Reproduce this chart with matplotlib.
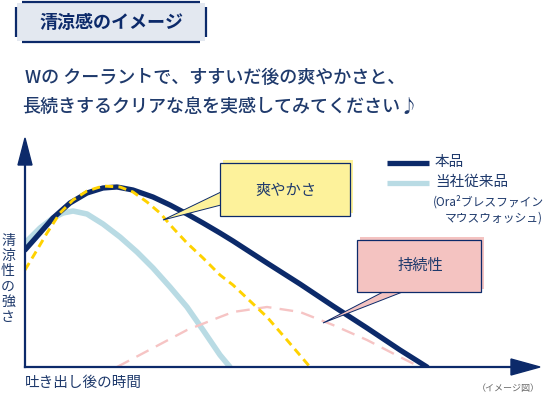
import matplotlib
matplotlib.use("Agg")
import matplotlib.pyplot as plt
from matplotlib.patches import Rectangle, Polygon

plt.rcParams['font.family'] = ['Noto Sans CJK JP', 'DejaVu Sans']

# curves: time after spitting out (x) vs strength of coolness (y), image units
main_t = [0, 15, 28, 45, 62, 78, 92, 108, 128, 145, 162, 178, 195, 208, 225, 242, 275, 308, 342, 375, 402]
main_s = [117, 134, 149, 164, 174, 179, 180, 177, 170, 162, 153, 144, 134, 126, 115, 104, 83, 61, 39, 17, 0]

old_t = [0, 15, 28, 38, 48, 62, 78, 95, 112, 128, 145, 162, 178, 195, 205]
old_s = [124, 139, 149, 154, 156, 153, 143, 130, 115, 99, 80, 60, 37, 12, 0]

fresh_t = [0, 12, 22, 35, 48, 62, 78, 95, 108, 122, 135, 148, 162, 178, 195, 208, 242, 262, 285]
fresh_s = [97, 117, 134, 154, 167, 176, 181, 180, 175, 165, 154, 139, 124, 109, 92, 82, 50, 27, 0]

last_t = [92, 128, 162, 195, 208, 242, 275, 308, 342, 375, 395]
last_s = [0, 19, 37, 50, 55, 60, 55, 42, 27, 10, 0]

title = "清涼感のイメージ"
lead1 = "Wの クーラントで、すすいだ後の爽やかさと、"
lead2 = "長続きするクリアな息を実感してみてください♪"
ylabel = "清涼性の強さ"
xlabel = "吐き出し後の時間"
note = "（イメージ図）"
legend_main = "本品"
legend_old = ["当社従来品", "(Ora²ブレスファイン", "マウスウォッシュ)"]
call_fresh = "爽やかさ"
call_last = "持続性"

navy = "#0c2a6a"
txt = "#1f3a6c"
lblue = "#b9dbe4"
yellow = "#ffd200"
pink = "#f6c4c4"

W, H = 546, 395
fig = plt.figure(figsize=(W / 100, H / 100), dpi=100)
fig.patch.set_facecolor("white")

# background axes in pixel units for the decorations
bg = fig.add_axes([0, 0, 1, 1])
bg.set_xlim(0, W)
bg.set_ylim(H, 0)
bg.axis("off")

# title box
bg.add_patch(Rectangle((17, 3), 188, 38, facecolor="#e3e8f0", edgecolor="none"))
bg.plot([22, 200], [2, 2], color=navy, lw=1.6, solid_capstyle="butt")
bg.plot([22, 200], [42, 42], color=navy, lw=1.6, solid_capstyle="butt")
bg.plot([16, 16], [7, 37], color=navy, lw=1.6, solid_capstyle="butt")
bg.plot([206, 206], [7, 37], color=navy, lw=1.6, solid_capstyle="butt")
bg.text(111, 22, title, ha="center", va="center", fontsize=13, fontweight="bold", color=navy)

bg.text(25, 78, lead1, ha="left", va="center", fontsize=13, fontweight="medium", color=txt)
bg.text(22, 107, lead2, ha="left", va="center", fontsize=13, fontweight="medium", color=txt)

# axis labels
bg.text(8, 279, "\n".join(ylabel), ha="center", va="center", fontsize=10,
        linespacing=1.12, color=txt)
bg.text(25, 383, xlabel, ha="left", va="center", fontsize=10.5, color=txt)
bg.text(540, 388, note, ha="right", va="center", fontsize=6.5, color="#666666")

# legend
bg.plot([387, 429], [163, 163], color=navy, lw=3.8, solid_capstyle="butt")
bg.plot([387, 429], [183, 183], color=lblue, lw=3.8, solid_capstyle="butt")
bg.text(435, 162, legend_main, ha="left", va="center", fontsize=10.5, color=txt)
bg.text(435, 182, legend_old[0], ha="left", va="center", fontsize=10.5, color=txt)
bg.text(433, 202, legend_old[1], ha="left", va="center", fontsize=8.5, color=txt)
bg.text(543, 218, legend_old[2], ha="right", va="center", fontsize=8.5, color=txt)

# data axes, origin at the arrow corner
ax = fig.add_axes([25 / W, (H - 367) / H, 515 / W, 229 / H])
ax.set_xlim(0, 515)
ax.set_ylim(0, 229)
ax.axis("off")

ax.plot(old_t, old_s, color=lblue, lw=4, solid_capstyle="round",
        solid_joinstyle="round", zorder=2)
ax.plot(last_t, last_s, color=pink, lw=1.7, dashes=(5.8, 3.5), zorder=3)
ax.plot(main_t, main_s, color=navy, lw=3.8, solid_capstyle="round",
        solid_joinstyle="round", zorder=4)
ax.plot(fresh_t, fresh_s, color=yellow, lw=2.1, dashes=(2.8, 1.8), zorder=5)

# axes with arrow heads
ax.plot([0, 0], [0, 205], color=navy, lw=1.6, clip_on=False, zorder=6)
ax.plot([0, 490], [0, 0], color=navy, lw=1.6, clip_on=False, zorder=6)
ax.add_patch(Polygon([(-7, 202), (7, 202), (0, 229)], closed=True, color=navy,
                     clip_on=False, zorder=6))
ax.add_patch(Polygon([(486, 8), (486, -8), (515, 0)], closed=True, color=navy,
                     clip_on=False, zorder=6))

# callout boxes (drawn on top of the curves)
top = fig.add_axes([0, 0, 1, 1])
top.set_xlim(0, W)
top.set_ylim(H, 0)
top.axis("off")
top.patch.set_alpha(0)

top.add_patch(Polygon([(221, 192), (163, 220), (221, 205)], closed=False,
                      facecolor="#fdf29b", edgecolor=navy, lw=0.7))
top.add_patch(Rectangle((223, 160), 130, 53, facecolor="#fdf29b", edgecolor="none"))
top.add_patch(Rectangle((220, 163), 130, 53, facecolor="#fdf29b", edgecolor=navy, lw=0.9))
top.text(286, 190, call_fresh, ha="center", va="center", fontsize=11, color=txt)

top.add_patch(Polygon([(385, 291), (323, 323), (405, 291)], closed=False,
                      facecolor="#f4c3c1", edgecolor=navy, lw=0.7))
top.add_patch(Rectangle((360, 237), 124, 52, facecolor="#f4c3c1", edgecolor="none"))
top.add_patch(Rectangle((357, 240), 124, 52, facecolor="#f4c3c1", edgecolor=navy, lw=0.9))
top.text(420, 265, call_last, ha="center", va="center", fontsize=11, color=txt)

fig.savefig("out.png", dpi=100)
